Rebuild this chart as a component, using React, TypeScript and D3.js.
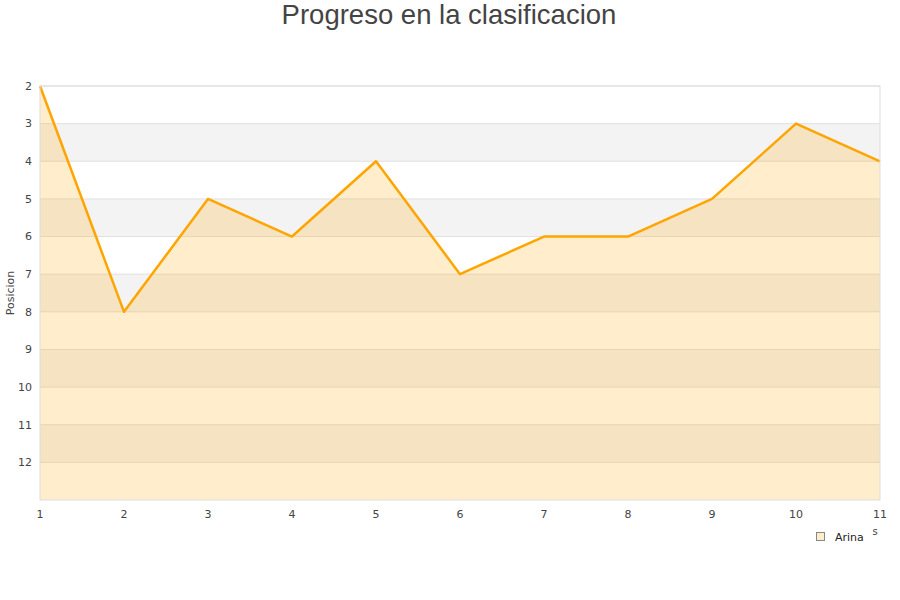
import React from "react";
import * as d3 from "d3";

// jornadas and positions
const rounds = [1, 2, 3, 4, 5, 6, 7, 8, 9, 10, 11];
const positions = [2, 8, 5, 6, 4, 7, 6, 6, 5, 3, 4];
const yTicks = [2, 3, 4, 5, 6, 7, 8, 9, 10, 11, 12];
const seriesName = "Arina";

const W = 900;
const H = 600;
const margin = { top: 86, right: 20, bottom: 100, left: 40 };

export default function App() {
  const innerW = W - margin.left - margin.right;
  const innerH = H - margin.top - margin.bottom;

  const x = d3.scaleLinear().domain([1, 11]).range([margin.left, margin.left + innerW]);
  const y = d3.scaleLinear().domain([2, 13]).range([margin.top, margin.top + innerH]);

  const pts = rounds.map((r, i) => ({ r, p: positions[i] }));

  const line = d3
    .line<{ r: number; p: number }>()
    .x((d) => x(d.r))
    .y((d) => y(d.p));
  const area = d3
    .area<{ r: number; p: number }>()
    .x((d) => x(d.r))
    .y0(y(13))
    .y1((d) => y(d.p));

  // alternate grey bands: 3-4, 5-6, 7-8, 9-10, 11-12
  const bands = yTicks.filter((t) => t % 2 === 1);

  const tickFont = "'DejaVu Sans', Verdana, sans-serif";

  return (
    <svg width={W} height={H} style={{ position: "absolute", left: 0, top: 0 }}>
      <rect x={0} y={0} width={W} height={H} fill="#fff" />
      <text
        x={449}
        y={24}
        textAnchor="middle"
        fontFamily="'Liberation Sans', Arial, sans-serif"
        fontSize={27.5}
        fill="#444"
      >
        Progreso en la clasificacion
      </text>

      {bands.map((b) => (
        <rect
          key={b}
          x={margin.left}
          y={y(b)}
          width={innerW}
          height={y(b + 1) - y(b)}
          fill="#f3f3f3"
        />
      ))}
      {yTicks.map((t) => (
        <line
          key={t}
          x1={margin.left}
          x2={margin.left + innerW}
          y1={y(t)}
          y2={y(t)}
          stroke="#e0e0e0"
          strokeWidth={1}
        />
      ))}

      <path d={area(pts) || ""} fill="#ffa500" fillOpacity={0.2} />
      <path d={line(pts) || ""} fill="none" stroke="#ffa500" strokeWidth={2.5} strokeLinejoin="round" />

      <rect
        x={margin.left}
        y={margin.top}
        width={innerW}
        height={innerH}
        fill="none"
        stroke="#dddddd"
        strokeWidth={1}
      />

      {yTicks.map((t) => (
        <text
          key={t}
          x={32}
          y={y(t)}
          dy="0.35em"
          textAnchor="end"
          fontFamily={tickFont}
          fontSize={11}
          fill="#444"
        >
          {t}
        </text>
      ))}
      {rounds.map((r) => (
        <text
          key={r}
          x={x(r)}
          y={514}
          dy="0.35em"
          textAnchor="middle"
          fontFamily={tickFont}
          fontSize={11}
          fill="#444"
        >
          {r}
        </text>
      ))}

      <text
        transform={`translate(14,${margin.top + innerH / 2}) rotate(-90)`}
        textAnchor="middle"
        fontFamily={tickFont}
        fontSize={11}
        fill="#444"
      >
        Posicion
      </text>
      <text x={875} y={531} dy="0.35em" textAnchor="middle" fontFamily={tickFont} fontSize={10} fill="#444">
        s
      </text>

      <rect x={816.5} y={532.5} width={8} height={8} fill="#ffedcc" stroke="#888" strokeWidth={1} />
      <text x={835} y={537} dy="0.35em" fontFamily={tickFont} fontSize={11} fill="#222">
        {seriesName}
      </text>
    </svg>
  );
}
